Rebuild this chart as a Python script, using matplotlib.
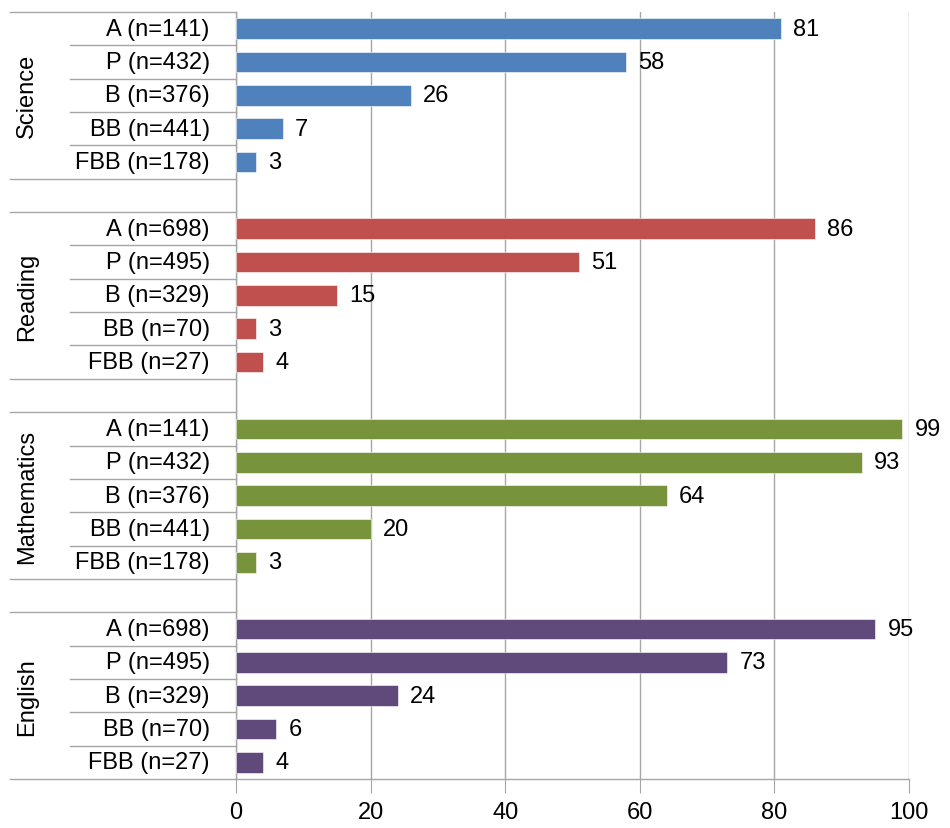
import matplotlib.pyplot as plt
from matplotlib import font_manager

subjects = ["Science", "Reading", "Mathematics", "English"]
levels = ["A", "P", "B", "BB", "FBB"]
counts = [
    [141, 432, 376, 441, 178],
    [698, 495, 329, 70, 27],
    [141, 432, 376, 441, 178],
    [698, 495, 329, 70, 27],
]
science = [81, 58, 26, 7, 3]
reading = [86, 51, 15, 3, 4]
mathematics = [99, 93, 64, 20, 3]
english = [95, 73, 24, 6, 4]
colors = ["#4F81BD", "#C0504D", "#77933C", "#604A7B"]

names = [f.name for f in font_manager.fontManager.ttflist]
if "Liberation Sans Narrow" in names:
    plt.rcParams["font.family"] = ["Liberation Sans Narrow", "DejaVu Sans"]
    fs = 19
else:
    plt.rcParams["font.family"] = ["Liberation Sans", "DejaVu Sans"]
    fs = 17

fig = plt.figure(figsize=(9.5, 8.29), dpi=100)
ax = fig.add_axes([236 / 950, 49 / 829, 673 / 950, 767 / 829])

series = [science, reading, mathematics, english]
grid_c = "#A6A6A6"
trans = ax.get_yaxis_transform()
x_full = (10 - 236) / 673
x_cat = (70 - 236) / 673

for g, vals in enumerate(series):
    start = g * 6
    ys = [start + i for i in range(5)]
    ax.barh(ys, vals, height=0.62, color=colors[g], edgecolor="white",
            linewidth=0.4, zorder=3)
    for y, v, lev, n in zip(ys, vals, levels, counts[g]):
        ax.text(v + 1.8, y, str(v), va="center", ha="left", fontsize=fs,
                zorder=4)
        ax.text(-0.039, y, f"{lev} (n={n})", transform=trans, ha="right",
                va="center", fontsize=fs)
    ax.text(-0.311, start + 2, subjects[g], transform=trans, rotation=90,
            ha="center", va="center", fontsize=fs)
    # separators between categories
    ax.plot([x_full, 0], [start - 0.5] * 2, transform=trans, color=grid_c,
            lw=1, clip_on=False)
    for i in range(1, 5):
        ax.plot([x_cat, 0], [start + i - 0.5] * 2, transform=trans,
                color=grid_c, lw=1, clip_on=False)
    ax.plot([x_full, 0], [start + 4.5] * 2, transform=trans, color=grid_c,
            lw=1, clip_on=False)

ax.set_xlim(0, 100)
ax.set_ylim(22.5, -0.5)
ax.set_xticks(range(0, 101, 20))
ax.set_yticks([])
ax.tick_params(axis="x", length=10, color=grid_c, labelsize=fs, pad=6)
ax.grid(axis="x", color=grid_c, lw=1, zorder=0)
for s in ["top", "right"]:
    ax.spines[s].set_visible(False)
for s in ["left", "bottom"]:
    ax.spines[s].set_color(grid_c)
    ax.spines[s].set_linewidth(1)

fig.savefig("out.png", dpi=100)
